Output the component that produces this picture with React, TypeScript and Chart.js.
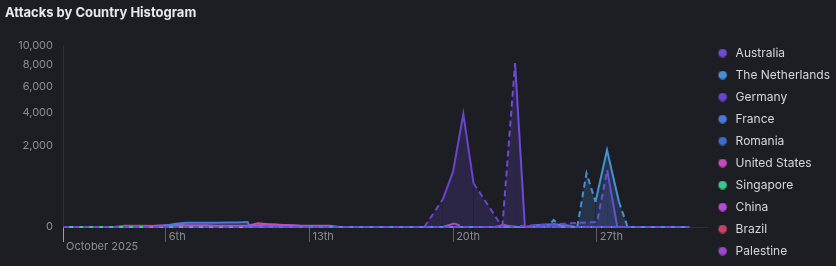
import React, { useEffect, useRef } from 'react';
import { Chart, registerables, LinearScale } from 'chart.js';

Chart.register(...registerables);

class SqrtScale extends LinearScale {
  static id = 'sqrt';
  static defaults = {};
  getPixelForValue(value: any) {
    if (value === null || value === undefined || isNaN(value)) return NaN;
    const lo = Math.sqrt(Math.max(0, this.min));
    const hi = Math.sqrt(Math.max(0, this.max));
    const d = (Math.sqrt(Math.max(0, value)) - lo) / (hi - lo);
    return this.getPixelForDecimal(d);
  }
  getValueForPixel(pixel: number) {
    const lo = Math.sqrt(Math.max(0, this.min));
    const hi = Math.sqrt(Math.max(0, this.max));
    const s = lo + this.getDecimalForPixel(pixel) * (hi - lo);
    return s * s;
  }
}
Chart.register(SqrtScale as any);

// x = days since 1 October 2025 00:00, y = attacks (null = no data, line spans dashed)
const australia: [number, number | null][] = [
  [0, 0], [0.5, null], [21.4, 0], [21.7, null], [22.02, 8180], [22.5, 0], [23, null], [30.5, 0],
];
const netherlands: [number, number | null][] = [
  [13, 0], [13.5, 0], [14, null], [19.5, 0], [20, 0], [20.5, null],
  [23.6, 0], [23.75, null], [23.9, 15], [24.05, null], [24.3, 0], [24.5, 0], [25.05, 0],
  [25.3, null], [25.5, 880], [25.72, null], [25.94, 195], [26.5, 1810], [27.08, 195],
  [27.3, null], [27.5, 0], [28, 0], [28.5, 0], [29, 0], [29.5, 0], [30, 0], [30.5, 0],
];
const germany: [number, number | null][] = [
  [17.6, 0], [18, null], [18.5, 234], [19.0, 933], [19.5, 3900], [20.0, 583], [20.5, null],
  [21.4, 0], [21.9, null], [26.02, 8], [26.25, null], [26.51, 990], [27.0, 0], [27.5, 0],
  [28, 0], [28.5, 0], [29, 0], [29.5, 0], [30, 0], [30.5, 0],
];
const france: [number, number | null][] = [
  [0, 0], [0.5, null], [4.5, 0], [4.95, 0.5], [5.5, 3], [6.0, 5.6], [6.5, 5.6], [7.0, 5.6],
  [7.5, 5.6], [8.0, 6], [8.5, 6.5], [9.0, 7.5], [9.1, 0], [9.5, 0], [10, null],
  [22.5, 0], [23, 1], [23.5, 2], [24, 2], [24.5, 1], [25, 0],
];
const romania: [number, number | null][] = [
  [10, 0], [11, 0], [12, 0], [12.5, null], [14, 0], [15, 0], [16, 0], [17, 0], [17.5, null],
  [27.5, 0], [28, 0], [29, 0], [30, 0], [30.5, 0],
];
const unitedStates: [number, number | null][] = [
  [4.0, 0], [4.5, 0.5], [5, 1], [5.5, 1.5], [6, 1], [6.5, 1], [7, 1], [7.5, 0.5], [8, 0.5],
  [8.5, 0.5], [9, 0.5], [9.5, 4.5], [10, 2.5], [10.5, 1.5], [11, 1], [11.5, 0.5], [12, 0.5],
  [12.5, 0.5], [13, 0.5], [13.5, 0], [14, 0], [14.5, null], [18.5, 0], [19.06, 4], [19.3, null], [19.5, 0],
];
const singapore: [number, number | null][] = [
  [0, 0], [0.3, 0], [0.5, null], [1.5, 0], [1.75, null], [2.5, 0], [2.75, null],
  [14, 0], [14.5, 0], [15, 0], [15.5, null], [16.5, 0], [17, 0], [17.5, 0], [18, null],
  [19.5, 0], [20, 0], [20.5, 0], [21, 0], [21.5, null], [24, 0], [24.5, 0], [25, 0], [25.5, null],
  [28, 0], [28.5, 0], [29, 0], [29.5, 0], [30, 0], [30.5, 0],
];
const china: [number, number | null][] = [
  [9, 0], [9.5, 1], [10, 2], [10.5, 1.5], [11, 1], [11.5, 0.5], [12, 0], [12.5, null],
  [21, 0], [21.5, 1], [22, 0],
];
const brazil: [number, number | null][] = [
  [2.5, 0], [3, 0.4], [3.5, 0.4], [4, 0.4], [4.5, 0.3], [5, 0], [5.25, null],
  [21.2, 0], [21.45, 2], [21.7, 0],
];
const palestine: [number, number | null][] = [
  [12, 0], [13, 0], [13.5, null], [18, 0], [18.5, 0], [19, null], [22.5, 0], [23, 0],
  [23.5, 0], [24, null], [26, 0], [26.5, 0],
];

const countries = ['Australia', 'The Netherlands', 'Germany', 'France', 'Romania', 'United States', 'Singapore', 'China', 'Brazil', 'Palestine'];
const seriesData = [australia, netherlands, germany, france, romania, unitedStates, singapore, china, brazil, palestine];
const colors = ['#6e4ad8', '#4690d8', '#6a44d0', '#4a78dc', '#3d6ccc', '#c54bb8', '#38c98c', '#b64cd6', '#cc4262', '#9b47cf'];

const tickDays = [0, 5, 12, 19, 26];
const tickLabels = ['October 2025', '6th', '13th', '20th', '27th'];
const yTicks = [0, 2000, 4000, 6000, 8000, 10000];

const FONT = 'Inter';

function makeDot(color: string) {
  const c = document.createElement('canvas');
  c.width = 12;
  c.height = 9;
  const g = c.getContext('2d')!;
  g.fillStyle = color;
  g.beginPath();
  g.arc(5, 4.5, 4.3, 0, Math.PI * 2);
  g.fill();
  return c;
}

export default function App() {
  const ref = useRef<HTMLCanvasElement>(null);
  useEffect(() => {
    const dots = colors.map(makeDot);
    const chart = new Chart(ref.current!, {
      type: 'line',
      data: {
        datasets: countries.map((name, i) => ({
          label: name,
          data: seriesData[i].map(([x, y]) => ({ x, y })),
          borderColor: colors[i],
          backgroundColor: colors[i] + '33',
          fill: 'origin',
          spanGaps: true,
          pointRadius: 0,
          borderWidth: 2,
          tension: 0,
          clip: false as any,
          segment: {
            borderDash: (ctx: any) => (ctx.p0.skip || ctx.p1.skip ? [6, 4] : undefined),
          },
        })),
      },
      options: {
        responsive: false,
        animation: false,
        events: [],
        layout: { padding: { left: 5, right: -4, top: 0, bottom: -1 } },
        scales: {
          x: {
            type: 'linear',
            min: 0,
            max: 31.4,
            afterBuildTicks: (s: any) => {
              s.ticks = tickDays.map((v) => ({ value: v }));
            },
            afterFit: (s: any) => {
              s.height = 40;
            },
            grid: {
              drawOnChartArea: false,
              drawTicks: true,
              tickLength: 15,
              color: (ctx: any) => (ctx.index === 0 ? '#9c9ea4' : '#5c5e64'),
            },
            border: { display: true, color: '#2e3035' },
            ticks: {
              align: 'start',
              padding: -10,
              maxRotation: 0,
              autoSkip: false,
              color: '#8b8e95',
              font: { family: FONT, size: 11, lineHeight: 0.91 },
              callback: (_v: any, i: number) => (i === 0 ? ['', ' ' + tickLabels[0]] : ' ' + tickLabels[i]),
            },
          },
          y: {
            type: 'sqrt' as any,
            min: 0,
            max: 10000,
            afterBuildTicks: (s: any) => {
              s.ticks = yTicks.map((v) => ({ value: v }));
            },
            afterFit: (s: any) => {
              s.width = 58;
            },
            grid: { display: false, drawTicks: false },
            border: { display: true, color: '#2e3035' },
            ticks: {
              padding: 10,
              color: '#8b8e95',
              font: { family: FONT, size: 11 },
              callback: (v: any) => Number(v).toLocaleString('en-US'),
            },
          },
        },
        plugins: {
          title: {
            display: true,
            text: 'Attacks by Country Histogram',
            align: 'start',
            color: '#e6eaf0',
            font: { family: FONT, size: 13, weight: 'bold' },
            padding: { top: 5, bottom: 25.4 },
          },
          legend: {
            position: 'right',
            align: 'end',
            labels: {
              usePointStyle: true,
              pointStyleWidth: 12,
              boxHeight: 9,
              padding: 10,
              color: '#d4d7de',
              font: { family: FONT, size: 12 },
              generateLabels: (c: any) =>
                c.data.datasets.map((ds: any, i: number) => ({
                  text: ds.label,
                  fillStyle: ds.borderColor,
                  strokeStyle: ds.borderColor,
                  lineWidth: 0,
                  pointStyle: dots[i],
                  hidden: false,
                  datasetIndex: i,
                  fontColor: '#d4d7de',
                })),
            },
          },
          tooltip: { enabled: false },
        },
      } as any,
    });
    return () => chart.destroy();
  }, []);
  return (
    <div style={{ position: 'absolute', left: 0, top: 0, width: 836, height: 266, background: '#1d1e23' }}>
      <canvas ref={ref} width={836} height={266} style={{ width: 836, height: 266, display: 'block' }} />
    </div>
  );
}
